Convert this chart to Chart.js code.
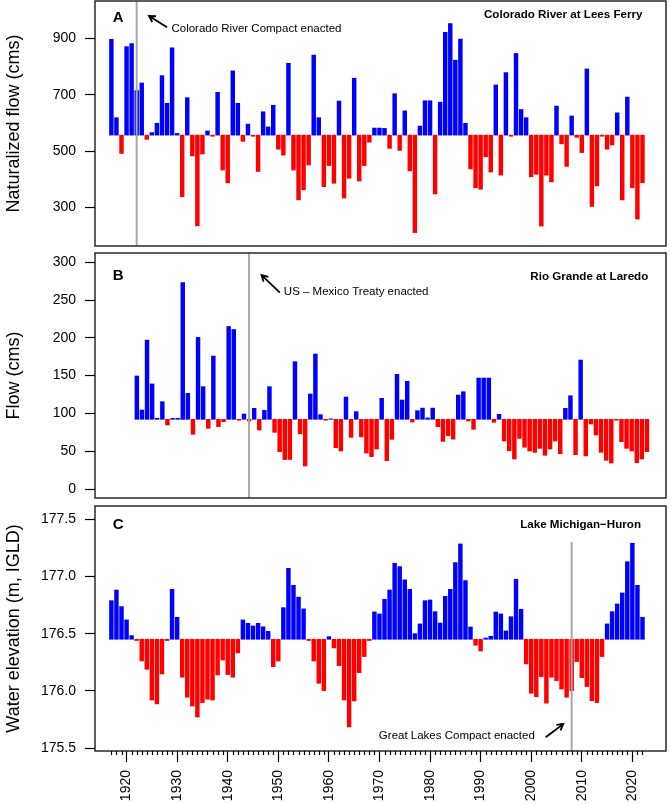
<!DOCTYPE html>
<html lang="en">
<head>
<meta charset="UTF-8">
<title>Flow and lake level anomalies</title>
<script src="https://cdn.jsdelivr.net/npm/chart.js"></script>
<style>
  body { margin: 0; background: #fff; }
  #wrap { position: relative; width: 670px; height: 804px; }
  canvas { position: absolute; left: 0; }
</style>
</head>
<body>
<div id="wrap">
  <canvas id="chartA" width="670" height="250" style="top:0"></canvas>
  <canvas id="chartB" width="670" height="250" style="top:250px"></canvas>
  <canvas id="chartC" width="670" height="304" style="top:500px"></canvas>
</div>
<script>
// Colorado River at Lees Ferry, naturalized flow (cms), 1917-2022
const flowA = [
  897, 619, 492, 871, 882, 715, 742, 542, 566, 599,
  768, 670, 867, 563, 338, 690, 483, 235, 490, 572,
  553, 709, 433, 388, 785, 670, 535, 596, 553, 428,
  640, 586, 663, 507, 486, 812, 433, 327, 363, 451,
  841, 619, 374, 449, 386, 678, 334, 404, 759, 394,
  449, 532, 582, 582, 581, 510, 704, 503, 643, 430,
  211, 589, 679, 679, 348, 674, 922, 953, 823, 898,
  599, 437, 370, 365, 480, 426, 735, 415, 779, 553,
  847, 648, 619, 409, 418, 234, 415, 391, 660, 526,
  446, 625, 549, 495, 792, 304, 377, 553, 507, 522,
  636, 327, 692, 370, 259, 388
];
const baseA = 557;
const startA = 1917;

// Rio Grande at Laredo, flow (cms), 1922-2022
const flowB = [
  149.5, 104.5, 197, 139, 93.5, 115.5, 84.7, 93.5, 93.5, 273,
  126.6, 72.4, 200.6, 135.4, 80.3, 175.9, 82.6, 89, 215, 211,
  91, 99.2, 90, 106.7, 78, 104, 135.4, 75, 49.4, 39,
  39, 168.4, 73, 30.4, 125.7, 178.6, 98.3, 91, 92.8, 54.7,
  50.3, 121.7, 68.3, 102.3, 69, 47.6, 42.8, 52.9, 120, 37.5,
  65.7, 151.7, 117.7, 142.5, 88.6, 103.6, 107, 94, 107, 82.4,
  63, 70.5, 66, 124.3, 128.7, 90, 79, 146.8, 146.8, 146.8,
  88.2, 98.8, 63.5, 50.7, 39.7, 67, 55.2, 50.3, 48.5, 53.8,
  44.6, 52.9, 63.5, 46.7, 106.7, 123.4, 45.4, 170.6, 43.7, 86,
  71.4, 48.5, 38, 34.4, 91, 62.6, 53.8, 50.3, 34.8, 39.7, 49.4
];
const baseB = 92.2;
const startB = 1922;

// Lake Michigan-Huron, water elevation (m, IGLD), 1917-2022
const levelC = [
  176.788, 176.881, 176.736, 176.62, 176.483, 176.44, 176.262, 176.189, 175.921, 175.887,
  176.148, 176.44, 176.887, 176.643, 176.12, 175.945, 175.869, 175.773, 175.898, 175.928,
  175.921, 176.14, 176.27, 176.143, 176.12, 176.332, 176.62, 176.59, 176.567, 176.59,
  176.56, 176.52, 176.212, 176.262, 176.727, 177.07, 176.922, 176.818, 176.716, 176.44,
  176.262, 176.067, 176.003, 176.474, 176.375, 176.221, 175.921, 175.686, 175.913, 176.16,
  176.3, 176.44, 176.69, 176.672, 176.8, 176.881, 177.114, 177.085, 176.969, 176.887,
  176.5, 176.585, 176.788, 176.794, 176.692, 176.593, 176.826, 176.887, 177.12, 177.283,
  176.963, 176.558, 176.399, 176.349, 176.462, 176.477, 176.689, 176.672, 176.524, 176.648,
  176.975, 176.713, 176.236, 175.98, 175.95, 176.125, 175.893, 176.12, 176.09, 176.017,
  175.945, 176.003, 176.256, 176.116, 176.038, 175.915, 175.898, 176.3, 176.585, 176.692,
  176.759, 176.855, 177.128, 177.289, 176.922, 176.643
];
const baseC = 176.451;
const startC = 1917;

const ticksA = [300, 500, 700, 900];
const ticksB = [0, 50, 100, 150, 200, 250, 300];
const ticksC = [175.5, 176.0, 176.5, 177.0, 177.5];
const yearTicks = [1920, 1930, 1940, 1950, 1960, 1970, 1980, 1990, 2000, 2010, 2020];

const FONT = '"Liberation Sans", Arial, Helvetica, sans-serif';
const BLUE = '#0000ff';
const RED = '#ff0000';
const GREY = '#a8a8a8';

function yearsFrom(start, n) {
  return Array.from({ length: n }, (_, i) => start + i);
}

function arrow(ctx, x0, y0, x1, y1) {
  const ang = Math.atan2(y1 - y0, x1 - x0);
  const L = 7, w = Math.PI / 6;
  ctx.strokeStyle = '#000';
  ctx.lineWidth = 1.8;
  ctx.beginPath();
  ctx.moveTo(x0, y0);
  ctx.lineTo(x1, y1);
  ctx.moveTo(x1 - L * Math.cos(ang - w), y1 - L * Math.sin(ang - w));
  ctx.lineTo(x1, y1);
  ctx.lineTo(x1 - L * Math.cos(ang + w), y1 - L * Math.sin(ang + w));
  ctx.stroke();
}

// keep the tick labels from pushing the plot area inwards
function noLabelPadding(s) {
  s.paddingTop = 0;
  s.paddingBottom = 0;
  s.paddingLeft = 0;
  s.paddingRight = 0;
}

function makeDecor(p) {
  return {
    id: 'decor',
    afterDatasetsDraw(chart) {
      const { ctx, chartArea: a, scales: { x, y } } = chart;
      const lx = x.getPixelForValue(p.event.year);
      const top = p.event.lineTop != null ? y.getPixelForValue(p.event.lineTop) : a.top;
      ctx.save();
      ctx.strokeStyle = GREY;
      ctx.lineWidth = 2;
      ctx.beginPath();
      ctx.moveTo(lx, top);
      ctx.lineTo(lx, a.bottom);
      ctx.stroke();
      ctx.restore();
    },
    afterDraw(chart) {
      const { ctx, chartArea: a, scales: { x, y } } = chart;
      const px = v => x.getPixelForValue(v);
      const py = v => y.getPixelForValue(v);
      ctx.save();

      // frame
      ctx.strokeStyle = '#1a1a1a';
      ctx.lineWidth = 1.4;
      ctx.strokeRect(a.left, a.top, a.right - a.left, a.bottom - a.top);

      // panel letter and site name
      ctx.fillStyle = '#000';
      ctx.textBaseline = 'middle';
      ctx.font = 'bold 15px ' + FONT;
      ctx.textAlign = 'left';
      ctx.fillText(p.letter, px(p.letterAt[0]), py(p.letterAt[1]));
      ctx.font = 'bold 11.6px ' + FONT;
      ctx.textAlign = 'right';
      ctx.fillText(p.name, px(p.nameAt[0]), py(p.nameAt[1]));

      // event note
      const e = p.event;
      ctx.font = '11.5px ' + FONT;
      ctx.textAlign = 'left';
      ctx.fillText(e.text, px(e.textAt[0]), py(e.textAt[1]));
      arrow(ctx, px(e.from[0]), py(e.from[1]), px(e.to[0]), py(e.to[1]));

      // y title
      ctx.translate(14, (a.top + a.bottom) / 2);
      ctx.rotate(-Math.PI / 2);
      ctx.font = '18px ' + FONT;
      ctx.textAlign = 'center';
      ctx.fillText(p.yTitle, 0, 0);
      ctx.setTransform(1, 0, 0, 1, 0, 0);

      // minor year ticks
      if (p.showX) {
        ctx.strokeStyle = '#000';
        ctx.lineWidth = 1.2;
        ctx.beginPath();
        p.years.forEach(yr => {
          if (yr % 10 === 0) return;
          const tx = Math.round(px(yr)) + 0.5;
          ctx.moveTo(tx, a.bottom);
          ctx.lineTo(tx, a.bottom + 4);
        });
        ctx.stroke();
      }
      ctx.restore();
    }
  };
}

function buildPanel(id, p) {
  const points = p.years.map((yr, i) => ({ x: yr, y: [p.base, p.values[i]] }));
  const xScale = {
    type: 'linear',
    min: p.xMin,
    max: p.xMax,
    offset: false,
    display: p.showX,
    grid: { offset: false, drawOnChartArea: false, tickLength: 11, tickColor: '#000', tickWidth: 1.2 },
    border: { display: false },
    ticks: {
      autoSkip: false, minRotation: 90, maxRotation: 90, padding: 8,
      color: '#000', font: { family: FONT, size: 14 },
      callback: v => String(v)
    },
    afterBuildTicks: s => { s.ticks = yearTicks.map(v => ({ value: v })); },
    afterFit: s => {
      noLabelPadding(s);
      if (p.showX) s.height = 53;
    }
  };

  return new Chart(document.getElementById(id), {
    type: 'bar',
    data: {
      datasets: [{
        data: points,
        backgroundColor: p.values.map(v => v >= p.base ? BLUE : RED),
        borderWidth: 0,
        barThickness: 3.8
      }]
    },
    options: {
      responsive: false,
      animation: false,
      devicePixelRatio: 1,
      layout: { padding: p.padding },
      plugins: { legend: { display: false }, tooltip: { enabled: false } },
      scales: {
        x: xScale,
        y: {
          min: p.yMin,
          max: p.yMax,
          grid: { drawOnChartArea: false, tickLength: 10, tickColor: '#000', tickWidth: 1.2 },
          border: { display: false },
          ticks: { padding: 9, color: '#000', font: { family: FONT, size: 14 }, callback: p.fmt },
          afterBuildTicks: s => { s.ticks = p.yTicks.map(v => ({ value: v })); },
          afterFit: s => {
            noLabelPadding(s);
            s.width = 95;
          }
        }
      }
    },
    plugins: [makeDecor(p)]
  });
}

buildPanel('chartA', {
  years: yearsFrom(startA, flowA.length), values: flowA, base: baseA,
  xMin: 1913.76, xMax: 2026.65, yMin: 163.4, yMax: 1033.1,
  yTicks: ticksA, fmt: v => String(v), showX: false,
  padding: { top: 1, bottom: 4, left: 0, right: 4 },
  yTitle: 'Naturalized flow (cms)',
  letter: 'A', letterAt: [1917.26, 972.8],
  name: 'Colorado River at Lees Ferry', nameAt: [2022, 983.4],
  event: {
    year: 1922, text: 'Colorado River Compact enacted',
    textAt: [1928.87, 933.7], from: [1928.0, 939.8], to: [1924.44, 979.9]
  }
});

buildPanel('chartB', {
  years: yearsFrom(startB, flowB.length), values: flowB, base: baseB,
  xMin: 1913.8, xMax: 2025.73, yMin: -11.9, yMax: 312.2,
  yTicks: ticksB, fmt: v => String(v), showX: false,
  padding: { top: 3, bottom: 2, left: 0, right: 4 },
  yTitle: 'Flow (cms)',
  letter: 'B', letterAt: [1917.3, 281.7],
  name: 'Rio Grande at Laredo', nameAt: [2022.25, 280.8],
  event: {
    year: 1944, text: 'US \u2013 Mexico Treaty enacted',
    textAt: [1950.82, 261], from: [1950.04, 259.7], to: [1946.45, 283]
  }
});

buildPanel('chartC', {
  years: yearsFrom(startC, levelC.length), values: levelC, base: baseC,
  xMin: 1913.76, xMax: 2026.65, yMin: 175.476, yMax: 177.614,
  yTicks: ticksC, fmt: v => v.toFixed(1), showX: true,
  padding: { top: 6, bottom: 0, left: 0, right: 4 },
  yTitle: 'Water elevation (m, IGLD)',
  letter: 'C', letterAt: [1917.26, 177.449],
  name: 'Lake Michigan\u2212Huron', nameAt: [2021.7, 177.446],
  event: {
    year: 2008, lineTop: 177.3, text: 'Great Lakes Compact enacted',
    textAt: [1969.88, 175.607], from: [2002.86, 175.596], to: [2006.34, 175.712]
  }
});
</script>
</body>
</html>
